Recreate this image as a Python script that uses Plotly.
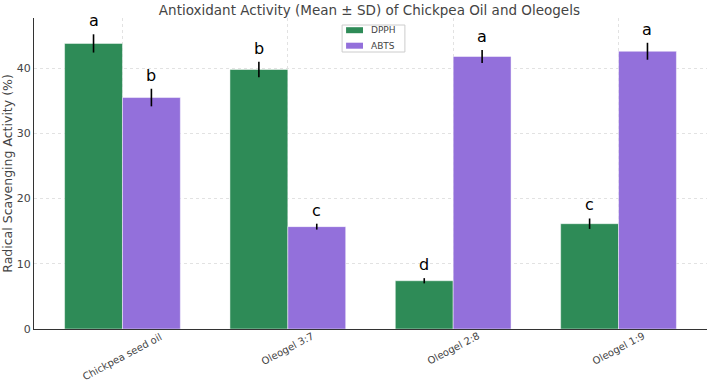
import plotly.graph_objects as go

categories = ["Chickpea seed oil", "Oleogel 3:7", "Oleogel 2:8", "Oleogel 1:9"]
series_names = ["DPPH", "ABTS"]
dpph_mean = [43.8, 39.8, 7.4, 16.15]
dpph_sd = [1.4, 1.2, 0.4, 0.8]
abts_mean = [35.5, 15.7, 41.8, 42.6]
abts_sd = [1.35, 0.45, 1.0, 1.3]
dpph_letters = ["a", "b", "d", "c"]
abts_letters = ["b", "c", "a", "a"]

width = 0.35
idx = list(range(len(categories)))
x_dpph = [i - width / 2 for i in idx]
x_abts = [i + width / 2 for i in idx]

green = "#2E8B57"
purple = "#9370DB"
colors = [green, purple]

W, H = 709, 383
ML, MR, MT, MB = 32, 2, 18, 54
PW, PH = W - ML - MR, H - MT - MB


def px_x(x):
    return (x - ML) / PW


def px_y(y):
    return (H - MB - y) / PH


fig = go.Figure()
fig.add_trace(go.Bar(
    x=x_dpph, y=dpph_mean, width=width, name=series_names[0],
    marker=dict(color=green, line=dict(color="rgba(255,255,255,0.6)", width=0.8)),
    error_y=dict(type="data", array=dpph_sd, color="black", thickness=1.6, width=0),
))
fig.add_trace(go.Bar(
    x=x_abts, y=abts_mean, width=width, name=series_names[1],
    marker=dict(color=purple, line=dict(color="rgba(255,255,255,0.6)", width=0.8)),
    error_y=dict(type="data", array=abts_sd, color="black", thickness=1.6, width=0),
))

annotations = []
for xs, ms, ss, ls in [(x_dpph, dpph_mean, dpph_sd, dpph_letters),
                       (x_abts, abts_mean, abts_sd, abts_letters)]:
    for x, m, s, l in zip(xs, ms, ss, ls):
        annotations.append(dict(
            x=x, y=m + s, text=l, showarrow=False, yanchor="bottom",
            yshift=2, font=dict(family="DejaVu Sans", size=16, color="black"),
        ))

for i, c in zip(idx, categories):
    annotations.append(dict(
        x=i, xref="x", y=0, yref="paper", text=c, showarrow=False,
        textangle=-28, xanchor="center", yanchor="top", yshift=1,
        font=dict(family="DejaVu Sans", size=10, color="#444444"),
    ))

# compact legend (matplotlib-like)
shapes = [dict(type="rect", xref="paper", yref="paper",
               x0=px_x(341), x1=px_x(404), y0=px_y(52), y1=px_y(25),
               line=dict(color="#cccccc", width=1), fillcolor="rgba(255,255,255,0.85)",
               layer="above")]
row_y = [30.2, 45.7]
for name, col, ry in zip(series_names, colors, row_y):
    shapes.append(dict(type="rect", xref="paper", yref="paper",
                       x0=px_x(345), x1=px_x(362), y0=px_y(ry + 3), y1=px_y(ry - 3),
                       line=dict(width=0), fillcolor=col, layer="above"))
    annotations.append(dict(x=px_x(368), y=px_y(ry), xref="paper", yref="paper",
                            text=name, showarrow=False, xanchor="left", yanchor="middle",
                            font=dict(family="DejaVu Sans", size=9, color="#444444")))

fig.update_layout(
    width=W, height=H,
    margin=dict(l=ML, r=MR, t=MT, b=MB),
    paper_bgcolor="white", plot_bgcolor="white",
    barmode="overlay",
    font=dict(family="DejaVu Sans", color="#444444"),
    title=dict(text="Antioxidant Activity (Mean ± SD) of Chickpea Oil and Oleogels",
               x=0.521, xanchor="center", y=0.985, yanchor="top",
               font=dict(size=13.5, color="#444444")),
    annotations=annotations,
    shapes=shapes,
    showlegend=False,
    xaxis=dict(
        range=[-0.535, 3.535], tickmode="array", tickvals=idx, showticklabels=False,
        showgrid=True, gridcolor="#e2e2e2", griddash="dot", gridwidth=1,
        showline=True, linecolor="#333333", linewidth=1.3,
        ticks="", zeroline=False,
    ),
    yaxis=dict(
        range=[0, 47.7], tickvals=[0, 10, 20, 30, 40],
        tickfont=dict(size=11, color="#444444"),
        title=dict(text="Radical Scavenging Activity (%)", font=dict(size=12.5, color="#444444"), standoff=6),
        showgrid=True, gridcolor="#e2e2e2", griddash="dot", gridwidth=1,
        showline=True, linecolor="#333333", linewidth=1.3,
        ticks="", zeroline=False,
    ),
)

fig.write_html("out.html")
